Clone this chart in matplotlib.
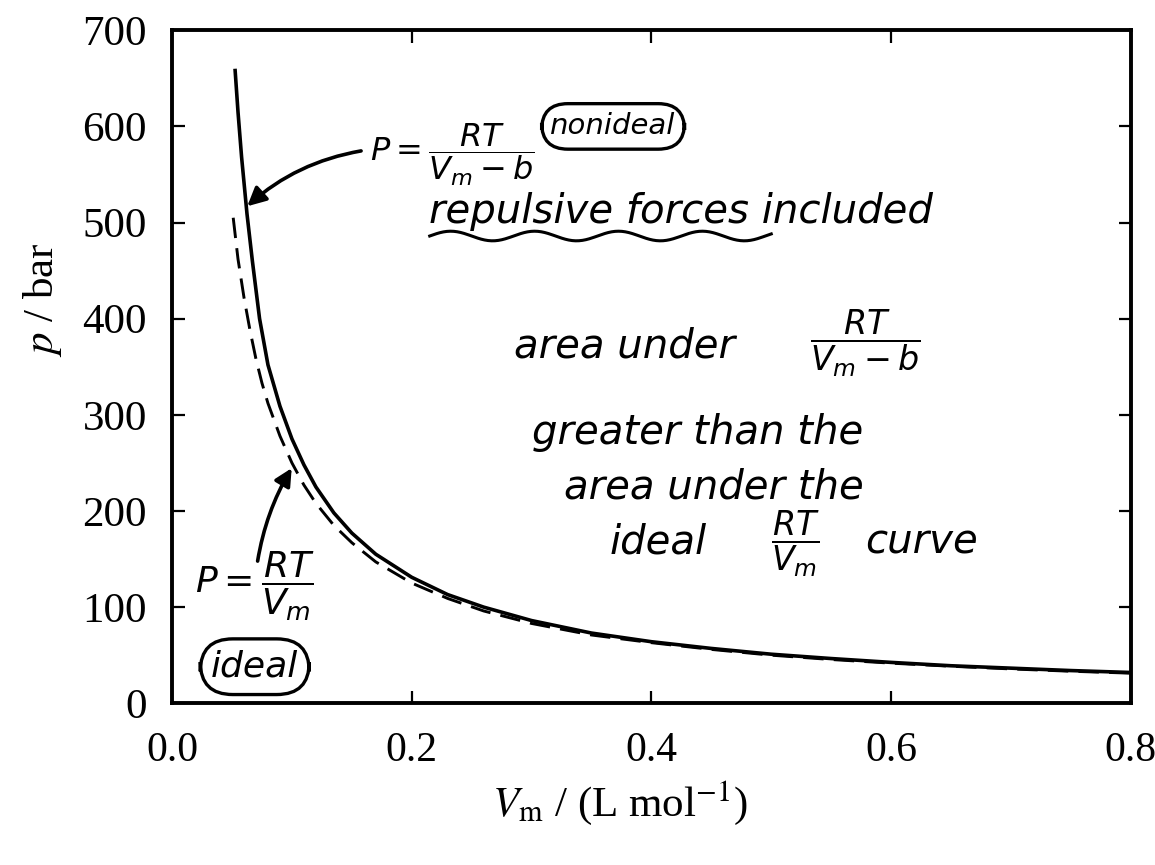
import matplotlib
matplotlib.use("Agg")
import matplotlib.pyplot as plt
import numpy as np

# values
vm_ideal = [0.051, 0.055, 0.06, 0.065, 0.07, 0.075, 0.08, 0.09, 0.10, 0.11, 0.12, 0.135,
            0.15, 0.17, 0.20, 0.23, 0.26, 0.30, 0.35, 0.40, 0.45, 0.50, 0.55, 0.60, 0.65,
            0.70, 0.75, 0.80]
p_ideal = [505, 462, 422, 388, 358, 333, 312, 278, 250, 227, 208, 185,
           167, 147, 125, 109, 96, 83, 71, 63, 56, 50, 45.5, 41.7, 38.5,
           35.7, 33.3, 31.3]

vm_nonideal = [0.0525, 0.055, 0.058, 0.0625, 0.067, 0.073, 0.08, 0.09, 0.10, 0.11,
               0.12, 0.135, 0.15, 0.17, 0.20, 0.23, 0.26, 0.30, 0.35, 0.40, 0.45, 0.50,
               0.55, 0.60, 0.65, 0.70, 0.75, 0.80]
p_nonideal = [660, 615, 568, 509, 460, 400, 352, 309, 275, 248,
              225, 198, 177, 155, 131, 113, 100, 86, 73, 64, 57, 51,
              46.5, 42.5, 39, 36.5, 34, 32]

x_ticks = [0.0, 0.2, 0.4, 0.6, 0.8]
y_ticks = [0, 100, 200, 300, 400, 500, 600, 700]

SERIF = "Liberation Serif"
HAND = "DejaVu Sans"
plt.rcParams["mathtext.fontset"] = "stix"

fig = plt.figure(figsize=(11.55, 8.65), dpi=100)
ax = fig.add_axes([0.149, 0.187, 0.830, 0.778])

ax.plot(vm_nonideal, p_nonideal, color="black", lw=2.6, solid_capstyle="butt")
ax.plot(vm_ideal, p_ideal, color="black", lw=2.1, linestyle=(0, (7, 3.5)))

ax.set_xlim(0, 0.8)
ax.set_ylim(0, 700)
ax.set_xticks(x_ticks)
ax.set_yticks(y_ticks)
ax.set_xticklabels([f"{v:.1f}" for v in x_ticks], fontfamily=SERIF, fontsize=30)
ax.set_yticklabels([str(v) for v in y_ticks], fontfamily=SERIF, fontsize=31)
ax.tick_params(direction="in", length=9, width=1.6, top=True, right=True)
ax.tick_params(axis="x", pad=20)
ax.tick_params(axis="y", pad=18)
for s in ax.spines.values():
    s.set_linewidth(2.8)

ax.set_ylabel(r"$p$ / bar", fontfamily=SERIF, fontsize=31, va="center")
ax.set_xlabel(r"$V_\mathrm{m}$ / (L mol$^{-1}$)", fontfamily=SERIF, fontsize=31)
ax.yaxis.set_label_coords(-0.135, 0.60)
ax.xaxis.set_label_coords(0.467, -0.112)

# handwritten annotations
hand = dict(fontfamily=HAND, fontsize=29, color="black", style="italic")
frac = dict(color="black", math_fontfamily="dejavusans")

ax.annotate("", xy=(0.061, 515), xytext=(0.160, 575),
            arrowprops=dict(arrowstyle="-|>", lw=2.6, color="black",
                            mutation_scale=28, connectionstyle="arc3,rad=0.15"))
ax.text(0.165, 570, r"$P = \dfrac{RT}{V_m - b}$", ha="left", va="center",
        fontsize=23, **frac)
ax.text(0.368, 600, "nonideal", ha="center", va="center", fontfamily=HAND, fontsize=21,
        style="italic",
        bbox=dict(boxstyle="round,pad=0.3,rounding_size=0.9", fc="none", ec="black", lw=2.4))
ax.text(0.214, 512, "repulsive forces included", ha="left", va="center", **hand)
wx = np.linspace(0.215, 0.50, 200)
ax.plot(wx, 486 + 5 * np.sin((wx - 0.215) * 2 * np.pi / 0.07), color="black", lw=2.2)

ax.text(0.285, 372, "area under", ha="left", va="center", **hand)
ax.text(0.532, 374, r"$\dfrac{RT}{V_m - b}$", ha="left", va="center", fontsize=24, **frac)
ax.text(0.30, 282, "greater than the", ha="left", va="center", **hand)
ax.text(0.327, 225, "area under the", ha="left", va="center", **hand)
ax.text(0.365, 168, "ideal", ha="left", va="center", **hand)
ax.text(0.500, 166, r"$\dfrac{RT}{V_m}$", ha="left", va="center", fontsize=24, **frac)
ax.text(0.578, 168, "curve", ha="left", va="center", **hand)

ax.annotate("", xy=(0.101, 247), xytext=(0.071, 145),
            arrowprops=dict(arrowstyle="-|>", lw=2.6, color="black",
                            mutation_scale=26, connectionstyle="arc3,rad=-0.1"))
ax.text(0.019, 122, r"$P = \dfrac{RT}{V_m}$", ha="left", va="center", fontsize=26,
        **frac)
ax.text(0.069, 38, "ideal", ha="center", va="center", fontfamily=HAND, fontsize=26,
        style="italic",
        bbox=dict(boxstyle="round,pad=0.3,rounding_size=0.9", fc="none", ec="black", lw=2.4))

fig.savefig("out.png", dpi=100)
